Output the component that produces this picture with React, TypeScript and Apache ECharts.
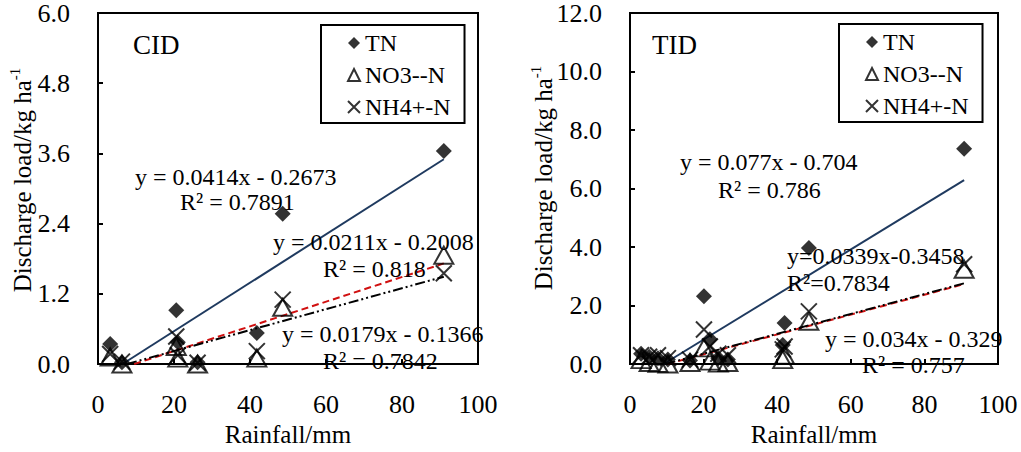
import React, { useEffect, useRef } from "react";
import * as echarts from "echarts";

// ---------- data ----------
const xCID = [3.2, 6.3, 20.6, 21.0, 26.2, 41.8, 48.6, 91.0];
const tnCID = [0.34, 0.03, 0.92, 0.37, 0.03, 0.53, 2.57, 3.64];
const no3CID = [0.12, 0.0, 0.3, 0.1, 0.0, 0.1, 0.97, 1.86];
const nh4CID = [0.17, 0.04, 0.47, 0.15, 0.02, 0.22, 1.1, 1.55];

const xTID = [3.0, 5.2, 7.6, 10.3, 16.3, 20.1, 21.7, 24.0, 26.6, 41.5, 42.0, 48.6, 90.8];
const tnTID = [0.35, 0.25, 0.2, 0.15, 0.12, 2.32, 0.85, 0.2, 0.15, 0.65, 1.4, 3.97, 7.36];
const no3TID = [0.15, 0.05, 0.02, 0.0, 0.05, 0.55, 0.1, 0.03, 0.05, 0.15, 0.3, 1.46, 3.24];
const nh4TID = [0.3, 0.25, 0.3, 0.2, 0.15, 1.18, 0.6, 0.35, 0.3, 0.5, 0.6, 1.8, 3.41];

// regression coefficients [slope, intercept] for TN, NO3, NH4
const fitCID = [[0.0414, -0.2673], [0.0211, -0.2008], [0.0179, -0.1366]];
const fitTID = [[0.077, -0.704], [0.0339, -0.3458], [0.034, -0.329]];

const eqCID = [
  "y = 0.0414x - 0.2673", "R² = 0.7891",
  "y = 0.0211x - 0.2008", "R² = 0.818",
  "y = 0.0179x - 0.1366", "R² = 0.7842",
];
const eqTID = [
  "y = 0.077x - 0.704", "R² = 0.786",
  "y=0.0339x-0.3458", "R²=0.7834",
  "y = 0.034x - 0.329", "R² = 0.757",
];

const seriesNames = ["TN", "NO3--N", "NH4+-N"];
const panelNames = ["CID", "TID"];

const FONT = '"Liberation Serif", "Times New Roman", serif';

function fitLine(xs: number[], m: number, b: number) {
  const x0 = Math.max(Math.min(...xs), -b / m);
  const x1 = Math.max(...xs);
  return [
    [x0, m * x0 + b],
    [x1, m * x1 + b],
  ];
}

const CROSS = "path://M0,0L10,10M10,0L0,10";

export default function App() {
  const ref = useRef<HTMLDivElement>(null);
  useEffect(() => {
    if (!ref.current) return;
    const chart = echarts.init(ref.current, undefined, { renderer: "svg" });

    const panels = [
      { xs: xCID, ys: [tnCID, no3CID, nh4CID], fits: fitCID, eq: eqCID, ymax: 6, yint: 1.2 },
      { xs: xTID, ys: [tnTID, no3TID, nh4TID], fits: fitTID, eq: eqTID, ymax: 12, yint: 2 },
    ];

    const grids = [
      { left: 98, top: 13, width: 380, height: 359 },
      { left: 630, top: 13, width: 368, height: 359 },
    ];

    const lineStyles = [
      { color: "#1f3a5f", width: 2, type: "solid" },
      { color: "#d01010", width: 2, type: [7, 4] },
      { color: "#000000", width: 2, type: [10, 3, 2, 3, 2, 3] },
    ];

    const series: any[] = [];
    panels.forEach((p, gi) => {
      p.fits.forEach((f, k) => {
        series.push({
          type: "line",
          name: seriesNames[k] + " fit " + gi,
          xAxisIndex: gi,
          yAxisIndex: gi,
          data: fitLine(p.xs, f[0], f[1]),
          symbol: "none",
          lineStyle: lineStyles[k],
          z: 2,
          silent: true,
        });
      });
      series.push({
        type: "scatter",
        name: seriesNames[0],
        xAxisIndex: gi,
        yAxisIndex: gi,
        data: p.xs.map((x, i) => [x, p.ys[0][i]]),
        symbol: "diamond",
        symbolSize: 16,
        itemStyle: { color: "#000" },
        z: 3,
      });
      series.push({
        type: "scatter",
        name: seriesNames[1],
        xAxisIndex: gi,
        yAxisIndex: gi,
        data: p.xs.map((x, i) => [x, p.ys[1][i]]),
        symbol: "triangle",
        symbolSize: [19, 17],
        itemStyle: { color: "rgba(255,255,255,0)", borderColor: "#000", borderWidth: 2 },
        z: 3,
      });
      series.push({
        type: "scatter",
        name: seriesNames[2],
        xAxisIndex: gi,
        yAxisIndex: gi,
        data: p.xs.map((x, i) => [x, p.ys[2][i]]),
        symbol: CROSS,
        symbolSize: 16,
        itemStyle: { color: "rgba(0,0,0,0)", borderColor: "#000", borderWidth: 2 },
        z: 3,
      });
    });

    const xAxes = grids.map((_, gi) => ({
      type: "value",
      gridIndex: gi,
      min: 0,
      max: 100,
      interval: 20,
      name: "Rainfall/mm",
      nameLocation: "middle",
      nameGap: 58,
      nameTextStyle: { fontFamily: FONT, fontSize: 25, color: "#000" },
      axisLine: { show: true, lineStyle: { color: "#000", width: 2 } },
      axisTick: { show: true, inside: true, length: 5, lineStyle: { color: "#000", width: 2 } },
      axisLabel: { fontFamily: FONT, fontSize: 26, color: "#000", margin: 27 },
      splitLine: { show: false },
    }));

    const yAxes = panels.map((p, gi) => ({
      type: "value",
      gridIndex: gi,
      min: 0,
      max: p.ymax,
      interval: p.yint,
      axisLine: { show: true, lineStyle: { color: "#000", width: 2 } },
      axisTick: { show: true, inside: true, length: 5, lineStyle: { color: "#000", width: 2 } },
      axisLabel: {
        fontFamily: FONT,
        fontSize: 26,
        color: "#000",
        margin: 28,
        formatter: (v: number) => v.toFixed(1),
      },
      splitLine: { show: false },
    }));

    const legends = [
      { left: 321, top: 25 },
      { left: 839, top: 24 },
    ].map((pos) => ({
      ...pos,
      orient: "vertical",
      data: [
        { name: seriesNames[0], icon: "diamond" },
        { name: seriesNames[1], icon: "triangle" },
        { name: seriesNames[2], icon: CROSS },
      ],
      itemWidth: 12,
      itemHeight: 12,
      itemGap: 6,
      padding: [5, 14, 3, 26],
      borderColor: "#000",
      borderWidth: 2,
      backgroundColor: "#fff",
      selectedMode: false,
      textStyle: { fontFamily: FONT, fontSize: 24, color: "#000", lineHeight: 26 },
    }));

    const eqPos = [
      [[135, 177], [180, 202], [273, 242], [323, 269], [282, 334], [323, 361]],
      [[680, 162], [718, 190], [787, 256], [787, 283], [825, 339], [862, 365]],
    ];

    const graphic: any[] = [];
    panels.forEach((p, gi) => {
      p.eq.forEach((t, i) => {
        graphic.push({
          type: "text",
          x: eqPos[gi][i][0],
          y: eqPos[gi][i][1],
          z: 10,
          style: {
            text: t,
            font: `24px ${FONT}`,
            fill: "#000",
            verticalAlign: "middle",
            align: "left",
          },
        });
      });
    });
    [[133, 45], [652, 45]].forEach((pt, gi) => {
      graphic.push({
        type: "text",
        x: pt[0],
        y: pt[1],
        z: 10,
        style: {
          text: panelNames[gi],
          font: `27px ${FONT}`,
          fill: "#000",
          verticalAlign: "middle",
          align: "left",
        },
      });
    });
    [[22, 180], [543, 178]].forEach((pt) => {
      graphic.push({
        type: "text",
        x: pt[0],
        y: pt[1],
        rotation: Math.PI / 2,
        z: 10,
        style: {
          text: "{a|Discharge load/kg ha}{b|-1}",
          align: "center",
          verticalAlign: "middle",
          fill: "#000",
          rich: {
            a: { fontFamily: FONT, fontSize: 25, fill: "#000", lineHeight: 30 },
            b: { fontFamily: FONT, fontSize: 15, fill: "#000", verticalAlign: "top", lineHeight: 30, padding: [0, 0, 12, 0] },
          },
        },
      });
    });

    chart.setOption({
      animation: false,
      textStyle: { fontFamily: FONT },
      grid: grids.map((g) => ({ ...g, show: true, borderColor: "#000", borderWidth: 2, backgroundColor: "transparent" })),
      xAxis: xAxes,
      yAxis: yAxes,
      legend: legends,
      series,
      graphic,
    });

    return () => chart.dispose();
  }, []);

  return <div ref={ref} style={{ width: 1021, height: 452, position: "absolute", left: 0, top: 0 }} />;
}
